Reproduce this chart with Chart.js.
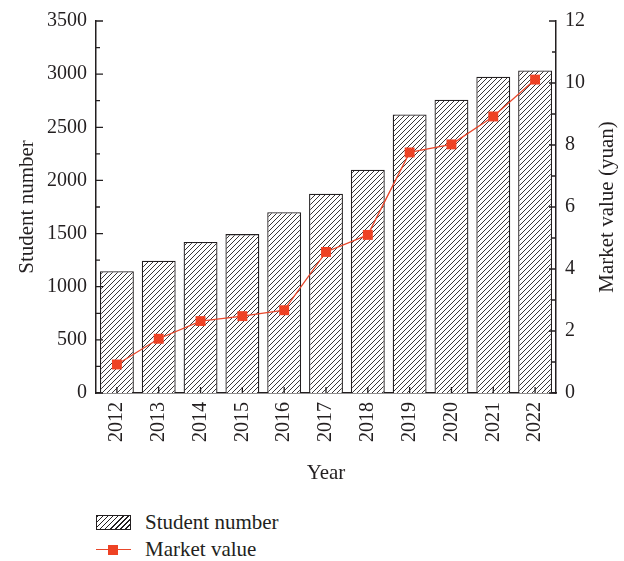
<!DOCTYPE html>
<html>
<head>
<meta charset="utf-8">
<script src="https://cdn.jsdelivr.net/npm/chart.js@4"></script>
<style>
  body { margin: 0; background: #fff; }
  #wrap { position: relative; width: 624px; height: 561px; font-family: "Liberation Serif", serif; color: #231f20; }
  #legend { position: absolute; left: 96px; top: 509px; font-size: 21px; }
  .row { display: flex; align-items: center; height: 27px; }
  .swatch { width: 35px; height: 15px; margin-right: 14px; box-sizing: border-box; border: 1.2px solid #231f20;
    background: repeating-linear-gradient(-45deg, #fff 0 2.6px, #231f20 2.6px 3.6px); }
  .lineSw { position: relative; width: 35px; height: 14px; margin-right: 14px; }
  .lineSw:before { content: ""; position: absolute; left: 0; right: 0; top: 6.5px; height: 1.3px; background: #e8472b; }
  .lineSw:after { content: ""; position: absolute; left: 12px; top: 2px; width: 10px; height: 10px; background: #ee4224; }
</style>
</head>
<body>
<div id="wrap">
  <canvas id="studentChart" width="624" height="490"></canvas>
  <div id="legend">
    <div class="row"><span class="swatch"></span>Student number</div>
    <div class="row"><span class="lineSw"></span>Market value</div>
  </div>
</div>
<script>
//Student number + market value chart

const years = ['2012', '2013', '2014', '2015', '2016', '2017', '2018', '2019', '2020', '2021', '2022'];
const studentNumber = [1145, 1245, 1420, 1495, 1700, 1875, 2100, 2620, 2760, 2975, 3035];
const marketValue = [0.92, 1.75, 2.32, 2.48, 2.67, 4.55, 5.10, 7.76, 8.02, 8.92, 10.11];

const ink = '#231f20';
const font = { family: 'Liberation Serif', size: 20 };
const titleFont = { family: 'Liberation Serif', size: 21 };

document.addEventListener("DOMContentLoaded", function () {

  const canvas = document.getElementById('studentChart');
  const ctx = canvas.getContext('2d');

  // diagonal hatch for the bars
  const tile = document.createElement('canvas');
  tile.width = 5; tile.height = 5;
  const t = tile.getContext('2d');
  t.fillStyle = '#fff';
  t.fillRect(0, 0, 5, 5);
  t.strokeStyle = ink;
  t.lineWidth = 0.9;
  t.beginPath();
  t.moveTo(0, 5); t.lineTo(5, 0);
  t.moveTo(-1, 1); t.lineTo(1, -1);
  t.moveTo(4, 6); t.lineTo(6, 4);
  t.stroke();
  const hatch = ctx.createPattern(tile, 'repeat');

  // ticks pointing into the plot, minor ticks on the y axes, y titles reading upward
  const innerTicks = {
    id: 'innerTicks',
    afterDraw(chart) {
      const c = chart.ctx;
      const area = chart.chartArea;
      c.save();
      c.strokeStyle = ink;
      c.lineWidth = 1.3;
      c.beginPath();
      ['y', 'y1'].forEach(function (id) {
        const s = chart.scales[id];
        const vals = s.ticks.map(function (tk) { return tk.value; });
        const left = id === 'y';
        const x0 = left ? area.left : area.right;
        const dir = left ? 1 : -1;
        vals.forEach(function (v, i) {
          let p = s.getPixelForValue(v);
          c.moveTo(x0, p); c.lineTo(x0 + dir * 7, p);
          if (i < vals.length - 1) {
            p = s.getPixelForValue((v + vals[i + 1]) / 2);
            c.moveTo(x0, p); c.lineTo(x0 + dir * 4, p);
          }
        });
      });
      const xs = chart.scales.x;
      years.forEach(function (y, i) {
        const p = xs.getPixelForValue(i);
        c.moveTo(p, area.bottom); c.lineTo(p, area.bottom - 6);
      });
      c.stroke();

      const midY = (area.top + area.bottom) / 2;
      c.fillStyle = ink;
      c.font = titleFont.size + 'px ' + titleFont.family;
      c.textAlign = 'center';
      c.textBaseline = 'middle';
      [['Student number', 27], ['Market value (yuan)', 607]].forEach(function (tt) {
        c.save();
        c.translate(tt[1], midY);
        c.rotate(-Math.PI / 2);
        c.fillText(tt[0], 0, 0);
        c.restore();
      });
      c.restore();
    }
  };

  const data = {
    labels: years,
    datasets: [{
      type: 'line',
      label: 'Market value',
      data: marketValue,
      yAxisID: 'y1',
      borderColor: '#e8472b',
      borderWidth: 1.3,
      backgroundColor: '#ee4224',
      pointStyle: 'rect',
      pointRadius: 7,
      pointBorderWidth: 0,
      order: 1
    }, {
      type: 'bar',
      label: 'Student number',
      data: studentNumber,
      yAxisID: 'y',
      backgroundColor: hatch,
      borderColor: ink,
      borderWidth: 1.3,
      categoryPercentage: 1,
      barPercentage: 0.81,
      order: 2
    }]
  };

  const plain = function (v) { return String(v); };

  const config = {
    data,
    options: {
      responsive: false,
      animation: false,
      layout: { padding: { top: 16, left: 0, right: 0, bottom: 0 } },
      plugins: {
        legend: { display: false },
        tooltip: { enabled: false }
      },
      scales: {
        x: {
          grid: { display: false, drawTicks: false },
          border: { display: true, color: ink, width: 1.5 },
          ticks: { color: ink, font, padding: 9, minRotation: 90, maxRotation: 90 },
          title: { display: true, text: 'Year', color: ink, font: titleFont, padding: { top: 8 } },
          afterFit(s) { s.height = 97; }
        },
        y: {
          position: 'left',
          min: 0, max: 3500,
          grid: { display: false, drawTicks: false },
          border: { display: true, color: ink, width: 1.5 },
          ticks: { stepSize: 500, color: ink, font, padding: 9, callback: plain },
          afterFit(s) { s.width = 96; }
        },
        y1: {
          position: 'right',
          min: 0, max: 12,
          grid: { display: false, drawTicks: false },
          border: { display: true, color: ink, width: 1.5 },
          ticks: { stepSize: 2, color: ink, font, padding: 9, callback: plain },
          afterFit(s) { s.width = 68; }
        }
      }
    },
    plugins: [innerTicks]
  };

  new Chart(canvas, config);
})
</script>
</body>
</html>
